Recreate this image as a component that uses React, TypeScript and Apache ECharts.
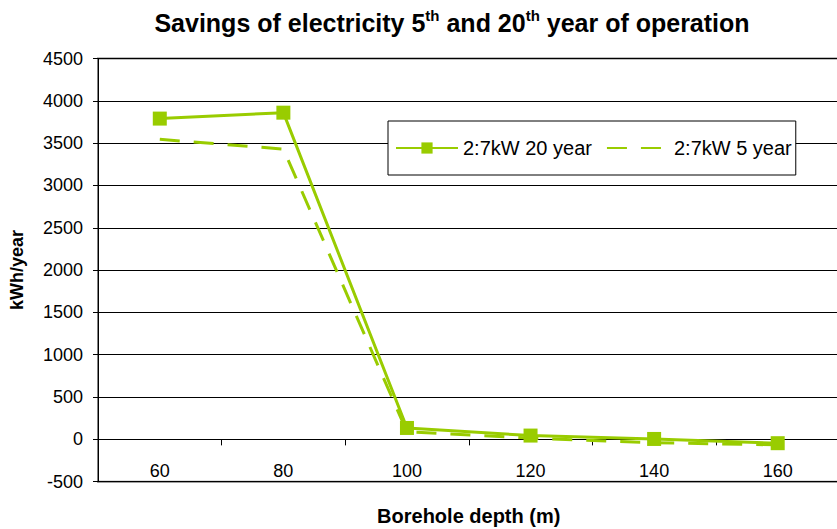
import React, { useEffect, useRef } from "react";
import * as echarts from "echarts";

const categories = ["60", "80", "100", "120", "140", "160"];
const year20 = [3790, 3860, 135, 45, 5, -45];
const year5 = [3545, 3430, 90, 15, -40, -65];
const seriesNames = ["2:7kW 20 year", "2:7kW 5 year"];
const GREEN = "#99CC00";
const FONT = "'Liberation Sans', Arial, sans-serif";

export default function App() {
  const ref = useRef<HTMLDivElement>(null);
  useEffect(() => {
    if (!ref.current) return;
    const chart = echarts.init(ref.current, undefined, { renderer: "svg" });
    chart.setOption({
      animation: false,
      backgroundColor: "#fff",
      textStyle: { fontFamily: FONT },
      title: {
        text: "Savings of electricity 5{sup|th} and 20{sup|th} year of operation",
        left: 447,
        textAlign: "center",
        top: 3,
        textStyle: {
          fontFamily: FONT,
          fontSize: 25,
          fontWeight: "bold",
          color: "#000",
          lineHeight: 30,
          rich: {
            sup: { fontFamily: FONT, fontSize: 15, fontWeight: "bold", color: "#000", verticalAlign: "top", lineHeight: 14 },
          },
        },
      },
      legend: {
        left: 388,
        top: 121,
        width: 407,
        height: 56,
        orient: "horizontal",
        backgroundColor: "#fff",
        borderColor: "#000",
        borderWidth: 1,
        padding: [17, 4, 17, 7],
        itemGap: 14,
        itemWidth: 62,
        itemHeight: 14,
        textStyle: { fontFamily: FONT, fontSize: 20, color: "#000" },
        data: [
          { name: seriesNames[0] },
          { name: seriesNames[1], itemStyle: { opacity: 0 } },
        ],
      },
      grid: {
        left: 98,
        top: 58.5,
        right: -2.5,
        bottom: 47.3,
        outerBoundsMode: "none",
        containLabel: false,
        show: true,
        borderColor: "#808080",
        borderWidth: 2,
        backgroundColor: "transparent",
      },
      xAxis: {
        type: "category",
        data: categories,
        boundaryGap: true,
        name: "Borehole depth (m)",
        nameLocation: "middle",
        nameGap: 24,
        nameTextStyle: { fontFamily: FONT, fontSize: 20, fontWeight: "bold", color: "#000" },
        axisLine: { onZero: true, lineStyle: { color: "#000", width: 1 } },
        axisTick: { show: true, length: 6, lineStyle: { color: "#000" } },
        axisLabel: { fontFamily: FONT, fontSize: 18, color: "#000", margin: -20 },
        splitLine: { show: false },
      },
      yAxis: {
        type: "value",
        min: -500,
        max: 4500,
        interval: 500,
        name: "kWh/year",
        nameLocation: "middle",
        nameGap: 72,
        nameTextStyle: { fontFamily: FONT, fontSize: 18, fontWeight: "bold", color: "#000" },
        axisLine: { show: true, lineStyle: { color: "#000", width: 1 } },
        axisTick: { show: true, length: 5, lineStyle: { color: "#000" } },
        axisLabel: { fontFamily: FONT, fontSize: 18, color: "#000", margin: 15, formatter: (v: number) => String(v) },
        splitLine: { show: true, lineStyle: { color: "#000", width: 1 } },
      },
      series: [
        {
          name: seriesNames[0],
          type: "line",
          data: year20,
          color: GREEN,
          symbol: "rect",
          symbolSize: 14,
          lineStyle: { color: GREEN, width: 3 },
          itemStyle: { color: GREEN },
          z: 3,
        },
        {
          name: seriesNames[1],
          type: "line",
          data: year5,
          color: GREEN,
          symbol: "none",
          showSymbol: false,
          lineStyle: { color: GREEN, width: 3, type: [20, 14] },
          itemStyle: { color: GREEN },
          z: 2,
        },
      ],
    });
    return () => chart.dispose();
  }, []);
  return <div ref={ref} style={{ width: 837, height: 529, position: "absolute", left: 0, top: 0 }} />;
}
